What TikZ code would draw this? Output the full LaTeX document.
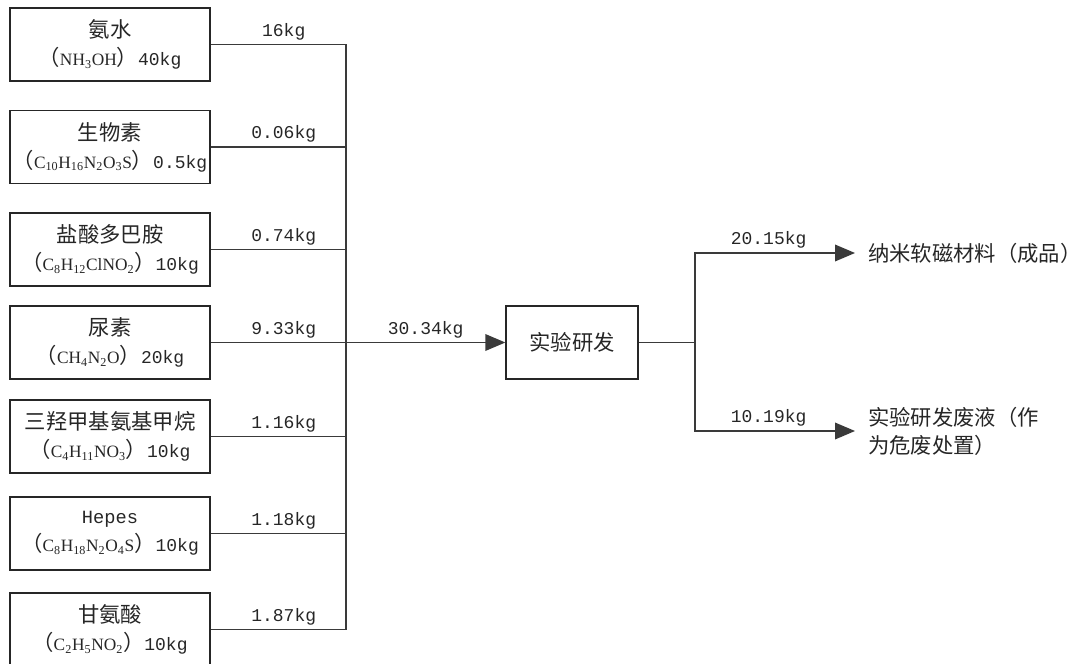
\documentclass[tikz,border=0pt]{standalone}
\usepackage{fontspec}
\setmainfont{Liberation Serif}
\setmonofont{Liberation Mono}
\newfontfamily\cjk{Noto Sans CJK SC}
\usetikzlibrary{arrows.meta,positioning}
\definecolor{Ink}{HTML}{262626}
\definecolor{Wire}{HTML}{3A3A3A}
\newcommand{\zh}[1]{{\cjk\fontsize{16}{21}\selectfont #1}}
\newcommand{\subn}[1]{\textsubscript{#1}}
\newcommand{\amt}[1]{{\ttfamily\fontsize{13.5}{21}\selectfont #1}}
\newcommand{\lpar}{\zh{（}}
\newcommand{\rpar}{\zh{）}}

\begin{document}
\begin{tikzpicture}[
    x=0.75pt, y=-0.75pt,
    feedbox/.style={
      draw=Ink,
      line width=1pt,
      minimum width=150pt,
      minimum height=54.75pt,
      inner sep=0pt,
      align=center,
      text=Ink,
      font=\fontsize{13}{21}\selectfont
    },
    procbox/.style={feedbox, minimum width=99pt},
    outtext/.style={
      anchor=west,
      inner xsep=9.75pt,
      inner ysep=0pt,
      align=left,
      text=Ink,
      font=\fontsize{16}{21}\selectfont
    },
    flowline/.style={draw=Wire, line width=1pt},
    flowarrow/.style={flowline, -{Triangle[length=15pt,width=12.5pt]}},
    masslabel/.style={above, inner sep=3pt, text=Ink, font=\ttfamily\fontsize{13.5}{16}\selectfont}
  ]
  \useasboundingbox (0,0) rectangle (1087,663);

  % raw materials
  \node[feedbox] (ammonia) at (110,44.5) {\zh{氨水}\\\lpar NH\subn{3}OH\rpar\amt{40kg}};
  \node[feedbox] (biotin) at (110,147) {\zh{生物素}\\\lpar C\subn{10}H\subn{16}N\subn{2}O\subn{3}S\rpar\amt{0.5kg}};
  \node[feedbox] (dopamine) at (110,249.5) {\zh{盐酸多巴胺}\\\lpar C\subn{8}H\subn{12}ClNO\subn{2}\rpar\amt{10kg}};
  \node[feedbox] (urea) at (110,342.5) {\zh{尿素}\\\lpar CH\subn{4}N\subn{2}O\rpar\amt{20kg}};
  \node[feedbox] (tris) at (110,436.5) {\zh{三羟甲基氨基甲烷}\\\lpar C\subn{4}H\subn{11}NO\subn{3}\rpar\amt{10kg}};
  \node[feedbox] (hepes) at (110,533.5) {{\ttfamily\fontsize{14}{21}\selectfont Hepes}\\\lpar C\subn{8}H\subn{18}N\subn{2}O\subn{4}S\rpar\amt{10kg}};
  \node[feedbox] (glycine) at (110,629.5) {\zh{甘氨酸}\\\lpar C\subn{2}H\subn{5}NO\subn{2}\rpar\amt{10kg}};

  % process and products
  \node[procbox] (lab) at (572,342.5) {\zh{实验研发}};
  \node[outtext] (product) at (855,253) {\zh{纳米软磁材料（成品）}};
  \node[outtext] (waste) at (855,431) {\zh{实验研发废液（作}\\\zh{为危废处置）}};

  \coordinate (bus) at (346,342.5);
  \coordinate (split) at (695,342.5);

  % feeds into the collecting line
  \foreach \src/\mass in {ammonia/16kg, biotin/0.06kg, dopamine/0.74kg, urea/9.33kg,
                          tris/1.16kg, hepes/1.18kg, glycine/1.87kg}
    \draw[flowline] (\src.east) -- node[masslabel, pos=0.54] {\mass} (\src.east -| bus);
  \draw[flowline] (ammonia.east -| bus) -- (glycine.east -| bus);

  \draw[flowarrow] (bus) -- node[masslabel] {30.34kg} (lab.west);
  \draw[flowline] (lab.east) -- (split);
  \draw[flowarrow] (split) |- node[masslabel, pos=0.73] {20.15kg} (product.west);
  \draw[flowarrow] (split) |- node[masslabel, pos=0.73] {10.19kg} (waste.west);
\end{tikzpicture}
\end{document}
